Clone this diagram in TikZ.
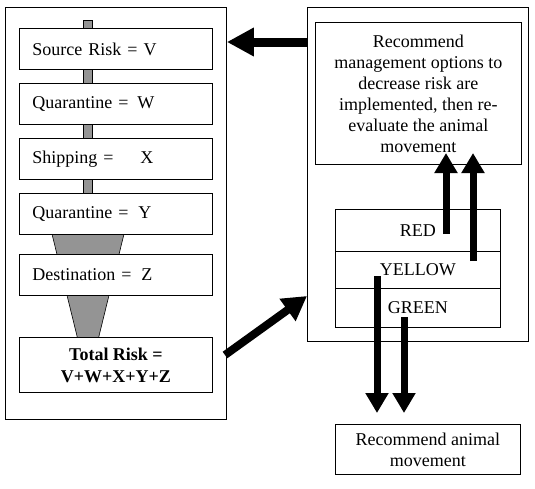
\documentclass[tikz,border=0pt]{standalone}
\usepackage{fontspec}
\setmainfont{Liberation Serif}
\usetikzlibrary{arrows.meta}
\begin{document}
\begin{tikzpicture}[x=1pt,y=-1pt,
  frame/.style={draw, line width=0.9pt, fill=white, inner sep=0pt, anchor=north west},
  stage/.style={frame, minimum width=193pt, minimum height=41pt, text width=167pt, inner xsep=13pt, align=left, font=\fontsize{18}{21}\selectfont},
  cbox/.style={frame, align=center, font=\fontsize{18}{21}\selectfont},
  graypart/.style={fill=black!42, draw=black, line width=0.6pt},
  bigarrow/.style={line width=9pt, -{Triangle[length=27pt,width=27pt]}},
  diagarrow/.style={line width=8pt, -{Triangle[length=24pt,width=26pt]}},
  thinarrow/.style={line width=7pt, -{Triangle[length=20pt,width=22pt]}},
]
\useasboundingbox (0,0) rectangle (535,488);

% outer frames
\node[frame, minimum width=221pt, minimum height=412pt] (lbox) at (5,7) {};
\node[frame, minimum width=221pt, minimum height=334pt] (rbox) at (307,7) {};

% gray spine and funnel
\filldraw[graypart] (83,20) rectangle (92,300);
\filldraw[graypart] (49.8,225) -- (126.2,225) -- (96.8,345) -- (79.2,345) -- cycle;

% stages
\node[stage] (src) at (19,28) {Source Risk = V};
\node[stage] (q1) at (19,83) {\makebox[105pt][l]{Quarantine =}W};
\node[stage] (ship) at (19,138) {\makebox[108pt][l]{Shipping =}X};
\node[stage] (q2) at (19,193) {\makebox[106pt][l]{Quarantine =}Y};
\node[stage] (dest) at (19,254) {\makebox[109pt][l]{Destination =}Z};
\node[cbox, minimum width=193pt, minimum height=55pt, font=\fontsize{18}{22}\selectfont\bfseries] (total) at (19,337) {Total Risk =\\V+W+X+Y+Z};

% right side
\node[cbox, minimum width=206pt, minimum height=142pt] (mgmt) at (315,22) {Recommend\\management options to\\decrease risk are\\implemented, then re-\\evaluate the animal\\movement};
\node[cbox, minimum width=165pt, minimum height=42pt] (red) at (335,209) {RED};
\node[cbox, minimum width=165pt, minimum height=37pt] (yellow) at (335,251) {YELLOW};
\node[cbox, minimum width=165pt, minimum height=39pt] (green) at (335,288) {GREEN};
\node[cbox, minimum width=185pt, minimum height=50pt] (move) at (335,424) {Recommend animal\\movement};

% connector end points
\coordinate (r1) at (446,234);
\coordinate (r2) at (473,261);
\coordinate (g1) at (377,276);
\coordinate (g2) at (404,317);
\coordinate (tt) at (225,355);

% arrows
\draw[bigarrow] (rbox.west |- 0,42) -- (lbox.east |- 0,42);
\draw[diagarrow] (tt) -- (rbox.west |- 0,296);
\draw[thinarrow] (r1) -- (r1 |- 0,153);
\draw[thinarrow] (r2) -- (r2 |- 0,153);
\draw[thinarrow] (g1) -- (g1 |- 0,413);
\draw[thinarrow] (g2) -- (g2 |- 0,413);
\end{tikzpicture}
\end{document}
